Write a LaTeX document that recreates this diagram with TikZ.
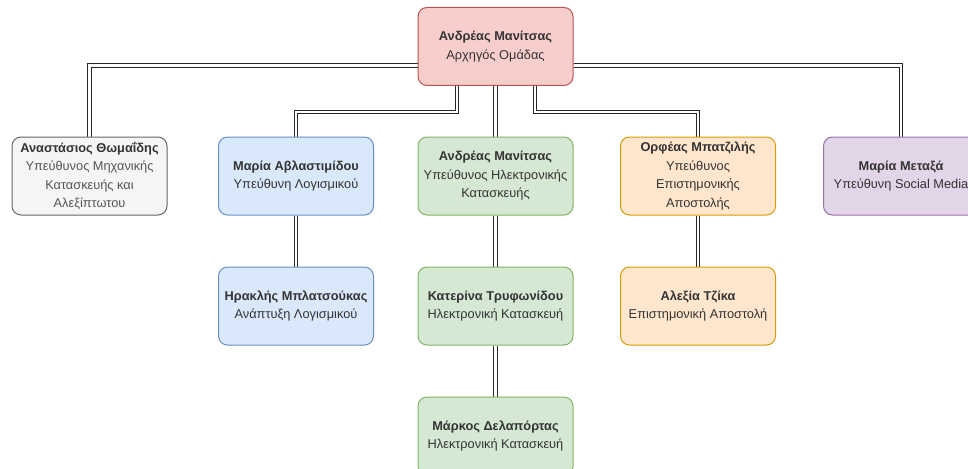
\documentclass[tikz,border=0pt]{standalone}
\usepackage{fontspec}
\setmainfont{Liberation Sans}
\usetikzlibrary{backgrounds}
\definecolor{redF}{HTML}{F8CECC}\definecolor{redS}{HTML}{B85450}
\definecolor{grayF}{HTML}{F5F5F5}\definecolor{grayS}{HTML}{666666}
\definecolor{blueF}{HTML}{DAE8FC}\definecolor{blueS}{HTML}{6C8EBF}
\definecolor{greenF}{HTML}{D5E8D4}\definecolor{greenS}{HTML}{82B366}
\definecolor{orangeF}{HTML}{FFE6CC}\definecolor{orangeS}{HTML}{D79B00}
\definecolor{purpleF}{HTML}{E1D5E7}\definecolor{purpleS}{HTML}{9673A6}
\definecolor{txt}{HTML}{333333}
\definecolor{txtg}{HTML}{555555}
\tikzset{
  x=1pt, y=1pt,
  box/.style={rectangle, rounded corners=9pt, line width=1pt, minimum width=155pt,
    minimum height=78pt, inner sep=0pt, align=center, text=txt,
    font=\fontsize{12.8}{18.5}\selectfont},
  redbox/.style={box, fill=redF, draw=redS},
  graybox/.style={box, fill=grayF, draw=grayS},
  bluebox/.style={box, fill=blueF, draw=blueS},
  greenbox/.style={box, fill=greenF, draw=greenS},
  orangebox/.style={box, fill=orangeF, draw=orangeS},
  purplebox/.style={box, fill=purpleF, draw=purpleS},
  link/.style={draw=black!85, line width=1pt, double=white, double distance=2.6pt}
}
\begin{document}
\begin{tikzpicture}
\useasboundingbox (0,0) rectangle (968,-468);
\node[redbox] (top) at (495.5,-46.5) {\textbf{Ανδρέας Μανίτσας}\\Αρχηγός Ομάδας};
\node[graybox] (ana) at (89.5,-176) {\textbf{Αναστάσιος Θωμαΐδης}\\\textcolor{txtg}{Υπεύθυνος Μηχανικής}\\\textcolor{txtg}{Κατασκευής και}\\\textcolor{txtg}{Αλεξίπτωτου}};
\node[bluebox] (mar) at (296,-176) {\textbf{Μαρία Αβλαστιμίδου}\\Υπεύθυνη Λογισμικού};
\node[greenbox] (and) at (495.5,-176) {\textbf{Ανδρέας Μανίτσας}\\Υπεύθυνος Ηλεκτρονικής\\Κατασκευής};
\node[orangebox] (orf) at (698,-176) {\textbf{Ορφέας Μπατζιλής}\\Υπεύθυνος\\Επιστημονικής\\Αποστολής};
\node[purplebox] (met) at (901,-176) {\textbf{Μαρία Μεταξά}\\Υπεύθυνη Social Media};
\node[bluebox] (her) at (296,-306) {\textbf{Ηρακλής Μπλατσούκας}\\Ανάπτυξη Λογισμικού};
\node[greenbox] (kat) at (495.5,-306) {\textbf{Κατερίνα Τρυφωνίδου}\\Ηλεκτρονική Κατασκευή};
\node[orangebox] (ale) at (698,-306) {\textbf{Αλεξία Τζίκα}\\Επιστημονική Αποστολή};
\node[greenbox] (mark) at (495.5,-436) {\textbf{Μάρκος Δελαπόρτας}\\Ηλεκτρονική Κατασκευή};
\begin{scope}[on background layer]
\coordinate (tl) at (top.west |- 0,-65.5);
\coordinate (tr) at (top.east |- 0,-65.5);
\draw[link] (tl) -| (ana.north);
\draw[link] (tr) -| (met.north);
\draw[link] (top.south -| 457,0) -- (457,-112) -| (mar.north);
\draw[link] (top.south) -- (and.north);
\draw[link] (top.south -| 535,0) -- (535,-112) -| (orf.north);
\draw[link] (mar.south) -- (her.north);
\draw[link] (and.south) -- (kat.north);
\draw[link] (kat.south) -- (mark.north);
\draw[link] (orf.south) -- (ale.north);
\end{scope}
\end{tikzpicture}
\end{document}
